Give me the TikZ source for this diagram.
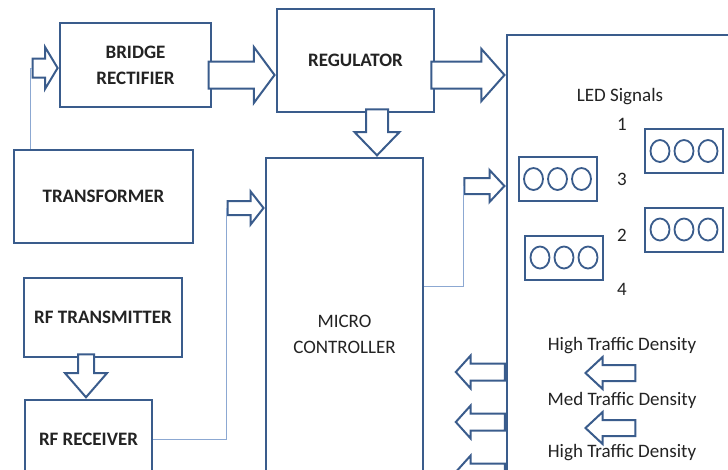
\documentclass[tikz,border=0pt]{standalone}
\usepackage{fontspec}
\setmainfont{Carlito}
\usetikzlibrary{shapes.arrows,calc}

\definecolor{boxblue}{RGB}{58,92,140}
\definecolor{wireblue}{RGB}{140,168,210}
\definecolor{ink}{RGB}{35,35,35}

\newcommand\labelsize{\fontsize{19}{26}\selectfont}

\tikzset{
  block/.style={draw=boxblue, line width=2.4pt, fill=white, align=center,
                text=ink, font=\labelsize\bfseries},
  plain/.style={text=ink, font=\labelsize},
  fat/.style={single arrow, draw=boxblue, line width=2pt, fill=white},
  wire/.style={draw=wireblue, line width=1pt},
  ledbox/.style={draw=boxblue, line width=2pt, minimum width=78pt, minimum height=44pt},
  lamp/.style={draw=boxblue, line width=1.8pt},
}

\begin{document}
\begin{tikzpicture}[x=1pt, y=-1pt]
\clip (0,0) rectangle (728,469);

% blocks
\node[block, minimum width=151pt, minimum height=84pt] (bridge) at (135.5,65) {BRIDGE\\RECTIFIER};
\node[block, minimum width=157pt, minimum height=103pt] (reg) at (355.5,60.5) {REGULATOR};
\node[block, minimum width=179pt, minimum height=93pt] (trans) at (103.5,196.5) {TRANSFORMER};
\node[block, minimum width=158pt, minimum height=79pt] (tx) at (103,317.5) {RF TRANSMITTER};
\node[block, minimum width=127pt, minimum height=78pt] (rx) at (88.5,439) {RF RECEIVER};
\node[block, font=\labelsize, minimum width=157pt, minimum height=352pt] (micro) at (344.5,334) {MICRO\\CONTROLLER};
\node[block, minimum width=253pt, minimum height=485pt] (big) at (633.5,277.5) {};

% block arrows
\node[fat, inner sep=8.5pt, single arrow head extend=11.5pt, single arrow tip angle=118,
      minimum height=25pt, anchor=tip] (ta) at ($(bridge.west)+(0,3)$) {};
\node[fat, inner sep=12.5pt, single arrow head extend=14.5pt, single arrow tip angle=107,
      minimum height=66pt, anchor=tip] (br) at ($(reg.west)+(0,14.5)$) {};
\node[fat, inner sep=12.5pt, single arrow head extend=12.5pt, single arrow tip angle=97,
      minimum height=73pt, anchor=tip] (rb) at (big.west |- br.center) {};
\node[fat, shape border rotate=270, inner sep=10pt, single arrow head extend=11.5pt,
      single arrow tip angle=88, minimum height=46pt, anchor=tip] (rm) at ($(micro.north)+(32.5,0)$) {};
\node[fat, inner sep=6pt, single arrow head extend=9.5pt, single arrow tip angle=104,
      minimum height=36pt, anchor=tip] (xm) at ($(micro.west)+(0,-126)$) {};
\node[fat, inner sep=7pt, single arrow head extend=8pt, single arrow tip angle=94,
      minimum height=40pt, anchor=tip] (mb) at ($(big.west)+(0,-91.5)$) {};
\node[fat, shape border rotate=270, inner sep=7pt, single arrow head extend=13pt,
      single arrow tip angle=82, minimum height=43pt, anchor=tip] (tr) at ($(rx.north)+(-2.5,0)$) {};

% thin wires
\draw[wire] (ta.tail) -| ($(trans.north west)+(18,0)$);
\draw[wire] (rx.east) -| (xm.tail);
\draw[wire] ($(micro.east)+(0,-48)$) -| (mb.tail);

% LED signals
\node[plain] (led) at (620,97) {LED Signals};
\foreach \n/\x/\y in {l1/684/151, l3/557.5/179, l2/684/229.5, l4/564/257.5} {
  \node[ledbox] (\n) at (\x,\y) {};
  \foreach \i in {-24,0,24}
    \draw[lamp] ($(\n)+(\i,0)$) ellipse (9.5 and 11);
}
\foreach \t/\y in {1/124, 3/179, 2/235, 4/289}
  \node[plain] (n\t) at (622,\y) {\t};

% traffic density
\node[plain] (d1) at (622,346) {High Traffic Density};
\node[plain] (d2) at (622,400) {Med Traffic Density};
\node[plain] (d3) at (622,453) {High Traffic Density};
\foreach \y [count=\k] in {373,428}
  \node[fat, shape border rotate=180, inner sep=7pt, single arrow head extend=8pt,
        single arrow tip angle=86, minimum height=50pt, anchor=tip] (s\k) at (584,\y) {};

% outputs to the left
\foreach \y [count=\k] in {372,422,472}
  \node[fat, shape border rotate=180, inner sep=7.5pt, single arrow head extend=8pt,
        single arrow tip angle=96, minimum height=49pt, anchor=tail] (o\k) at (big.west |- 0,\y) {};

\end{tikzpicture}
\end{document}
